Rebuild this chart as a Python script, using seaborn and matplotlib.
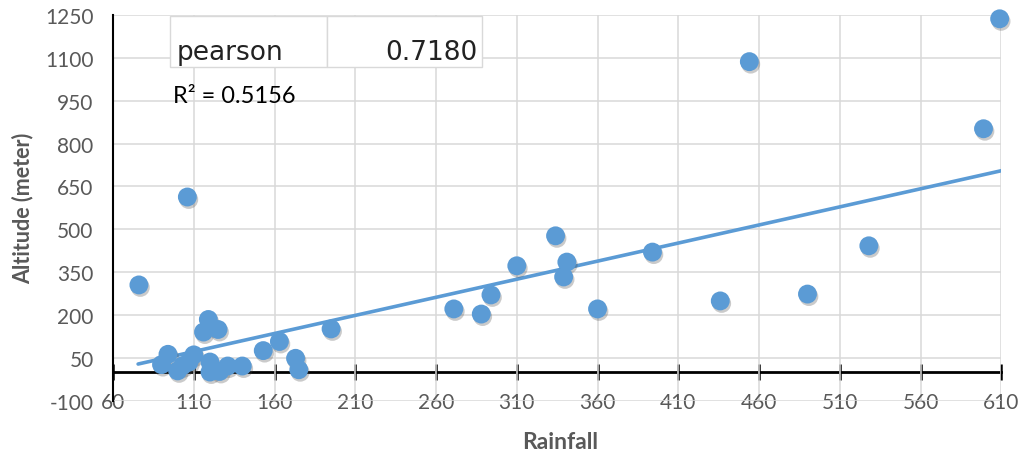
import matplotlib
matplotlib.use("Agg")
import matplotlib.pyplot as plt
import matplotlib.patheffects as pe
from matplotlib.patches import Rectangle
import seaborn as sns
import pandas as pd

# Rainfall vs altitude readings
rainfall = [76, 106, 454, 609, 599, 528, 490, 436, 394, 360, 339, 341,
            334, 310, 294, 288, 271, 195, 163, 153, 173, 175, 140, 131,
            126, 120, 120, 119, 125, 116, 94, 90, 100, 103, 107, 110]
altitude = [305, 613, 1087, 1237, 852, 442, 273, 249, 420, 221, 333, 385,
            477, 372, 270, 203, 221, 151, 107, 75, 48, 8, 21, 21,
            2, 35, 0, 184, 149, 140, 62, 26, 4, 22, 35, 60]

# linear trendline as shown on the chart
trend_x = [75.5, 610]
trend_y = [28, 705]

x_ticks = list(range(60, 611, 50))
y_ticks = list(range(-100, 1251, 150))
pearson_label = "pearson"
pearson_value = "0.7180"
r2_text = "R² = 0.5156"

data = pd.DataFrame({"Rainfall": rainfall, "Altitude": altitude})
trend = pd.DataFrame({"Rainfall": trend_x, "Altitude": trend_y})

sns.set_style("white")
plt.rcParams["font.family"] = ["Lato", "DejaVu Sans"]
plt.rcParams["axes.unicode_minus"] = False

blue = "#5B9BD5"
gray = "#595959"

fig = plt.figure(figsize=(10.28, 4.6), dpi=100)
ax = fig.add_axes([0.110, 0.127, 0.864, 0.838])

sns.lineplot(data=trend, x="Rainfall", y="Altitude", ax=ax, color=blue,
             lw=2.6, zorder=3)
sns.scatterplot(data=data, x="Rainfall", y="Altitude", ax=ax, s=185,
                color=blue, edgecolor="none", zorder=4, clip_on=False)

# soft drop shadow under the markers
ax.collections[-1].set_path_effects([
    pe.SimplePatchShadow(offset=(1.0, -1.8), shadow_rgbFace="#444444", alpha=0.28),
    pe.Normal()])

ax.set_xlim(60, 610)
ax.set_ylim(-100, 1250)
ax.set_xticks(x_ticks)
ax.set_yticks(y_ticks)
ax.grid(True, color="#D9D9D9", lw=1.1)
ax.set_axisbelow(True)

for s in ["top", "right", "bottom"]:
    ax.spines[s].set_visible(False)
ax.spines["left"].set_color("black")
ax.spines["left"].set_linewidth(1.5)
ax.spines["left"].set_zorder(5)

ax.tick_params(axis="y", direction="inout", length=12, width=1.5, color="black",
               labelsize=15, labelcolor=gray, pad=8)
ax.tick_params(axis="x", length=0, labelsize=15, labelcolor=gray, pad=-6)

# horizontal axis crosses at y = 0
sec = ax.secondary_xaxis(100 / 1350)
sec.set_xticks(x_ticks)
sec.tick_params(direction="inout", length=12, width=1.8, color="black",
                labelbottom=False, labeltop=False)
for s in sec.spines.values():
    s.set_linewidth(2)
    s.set_color("black")

ax.set_xlabel("Rainfall", fontsize=16.5, fontweight="bold", color=gray)
ax.set_ylabel("Altitude (meter)", fontsize=15.5, fontweight="bold", color=gray)
ax.xaxis.set_label_coords(0.503, -0.078)
ax.yaxis.set_label_coords(-0.090, 0.5)

# pearson box
tab_left, tab_mid, tab_right = 0.0642, 0.2410, 0.4155
tab_bot, tab_top = 0.865, 0.997
for x0, x1 in [(tab_left, tab_mid), (tab_mid, tab_right)]:
    ax.add_patch(Rectangle((x0, tab_bot), x1 - x0, tab_top - tab_bot,
                           transform=ax.transAxes, facecolor="white",
                           edgecolor="#D9D9D9", lw=1, zorder=6, clip_on=False))
ax.text(0.0721, 0.886, pearson_label, transform=ax.transAxes, fontsize=19,
        family="DejaVu Sans", color="#222222", va="baseline", ha="left", zorder=7)
ax.text(0.4099, 0.886, pearson_value, transform=ax.transAxes, fontsize=19,
        family="DejaVu Sans", color="#222222", va="baseline", ha="right", zorder=7)

ax.text(0.0676, 0.7744, r2_text, transform=ax.transAxes, fontsize=17,
        color="black", va="baseline", ha="left", zorder=7)

fig.savefig("out.png", dpi=100)
